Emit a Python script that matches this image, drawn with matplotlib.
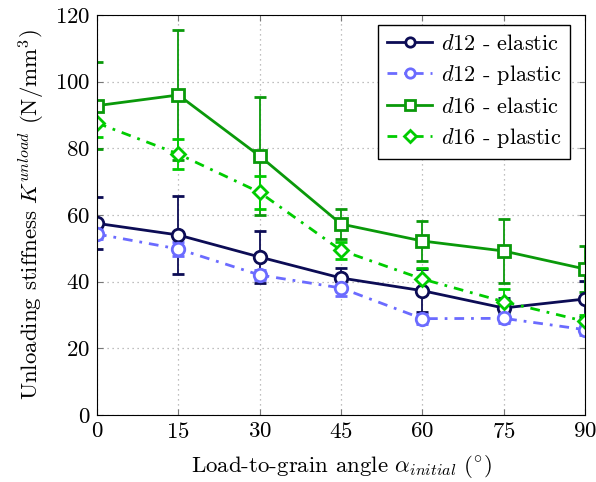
import matplotlib
matplotlib.use("Agg")
import matplotlib.pyplot as plt

plt.rcParams["font.family"] = "serif"
plt.rcParams["font.serif"] = ["cmr10", "DejaVu Serif"]
plt.rcParams["mathtext.fontset"] = "cm"
plt.rcParams["axes.unicode_minus"] = False
plt.rcParams["axes.formatter.use_mathtext"] = True

angles = [0, 15, 30, 45, 60, 75, 90]

d12_elastic = [57.5, 54.0, 47.4, 41.1, 37.3, 32.1, 34.8]
d12_elastic_err = [7.8, 11.7, 7.8, 3.0, 6.5, 3.0, 5.5]

d12_plastic = [54.3, 49.8, 42.0, 38.1, 28.9, 29.0, 25.6]
d12_plastic_err = [1.5, 2.0, 1.5, 2.4, 1.5, 1.5, 1.5]

d16_elastic = [92.8, 96.0, 77.7, 57.3, 52.2, 49.2, 43.8]
d16_elastic_err = [13.0, 19.5, 17.8, 4.5, 6.0, 9.5, 7.0]

d16_plastic = [87.6, 78.3, 66.8, 49.4, 40.8, 34.0, 28.1]
d16_plastic_err = [4.2, 4.5, 5.0, 2.5, 3.3, 3.8, 2.0]

dashdot = (0, (3.5, 2.5, 1, 2.5))
series = [
    (d12_elastic, d12_elastic_err, "$d12$ - elastic", "#0c0c55", "-", "o"),
    (d12_plastic, d12_plastic_err, "$d12$ - plastic", "#6b6bff", dashdot, "o"),
    (d16_elastic, d16_elastic_err, "$d16$ - elastic", "#0a990a", "-", "s"),
    (d16_plastic, d16_plastic_err, "$d16$ - plastic", "#00cc00", dashdot, "D"),
]

fig = plt.figure(figsize=(5.96, 4.82), dpi=100)
ax = fig.add_axes([97 / 596, 67 / 482, 488 / 596, 400 / 482])

handles = []
for values, errs, label, color, ls, marker in series:
    eb = ax.errorbar(
        angles, values, yerr=errs,
        color=color, linestyle=ls, linewidth=2.0,
        marker=marker, markersize=9 if marker != "D" else 7.5,
        markerfacecolor="white", markeredgecolor=color, markeredgewidth=2.0,
        ecolor=color, elinewidth=1.3, capsize=4.5, capthick=1.3,
    )
    eb.lines[0].set_label(label)
    handles.append(eb.lines[0])

ax.set_xlim(0, 90)
ax.set_ylim(0, 120)
ax.set_xticks(angles)
ax.set_yticks(range(0, 121, 20))
ax.tick_params(direction="in", top=True, right=True, labelsize=16.5, length=4,
               color="#777777", pad=5)
ax.grid(True, linestyle=(0, (1, 3)), color="#aaaaaa", linewidth=0.9)

ax.set_xlabel(r"Load-to-grain angle $\alpha_{initial}$ ($^{\circ}$)", fontsize=16.5, labelpad=8)
ax.set_ylabel(r"Unloading stiffness $K^{unload}$ (N/mm$^3$)", fontsize=16.5, labelpad=6)

leg = ax.legend(handles=handles, loc="upper right", fontsize=16, frameon=True,
                fancybox=False, edgecolor="black", framealpha=1, borderpad=0.4,
                handlelength=2.0, handletextpad=0.4, labelspacing=0.42,
                markerscale=0.75, borderaxespad=0, bbox_to_anchor=(0.969, 0.975))
leg.get_frame().set_linewidth(1.0)

fig.savefig("out.png", dpi=100)
